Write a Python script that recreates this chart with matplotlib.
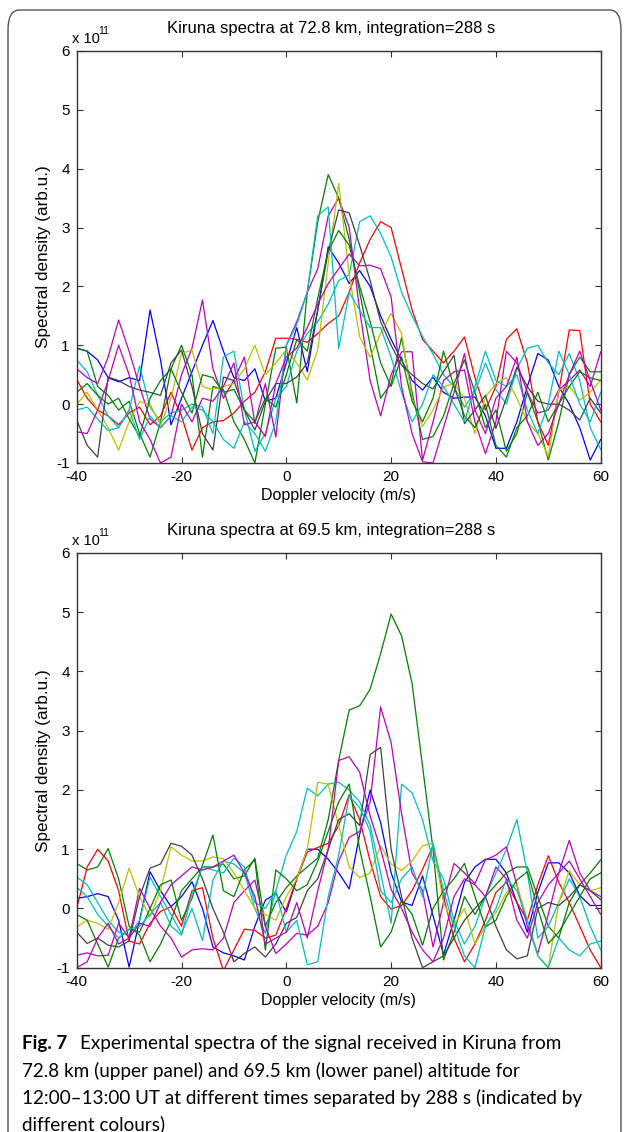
import numpy as np
import matplotlib
matplotlib.use( 'Agg' )
import matplotlib.pyplot as plt
from matplotlib.patches import FancyBboxPatch

plt.rcParams['font.family'] = [ 'Liberation Sans', 'DejaVu Sans' ]
plt.rcParams['axes.unicode_minus'] = False

# Doppler velocity grid (m/s)
velocity = np.arange( -40, 61, 2 )

# Upper panel: 72.8 km (units of 1e11)
up_blue = [ 0.95, 0.9, 0.75, 0.45, 0.38, 0.45, 0.4, 1.6, 0.75, -0.35,
            0.1, 0.55, 1.0, 1.42, 0.9, 0.45, 0.4, 0.6, 0.05, 0.1,
            0.7, 1.3, 0.55, 1.6, 2.67, 2.4, 2.05, 2.27, 2.0, 1.5,
            1.1, 0.75, 0.4, 0.24, 0.46, 0.2, 0.1, 0.12, 0.12, -0.2,
            -0.75, -0.75, -0.3, 0.3, 0.86, 0.75, 0.3, 0.0, -0.4, -0.95, -0.6 ]
up_green1 = [ 0.95, 0.9, 0.3, 0.15, -0.1, 0.05, -0.5, -0.9, -0.3, 0.6,
              1.0, 0.5, -0.9, 0.3, 0.25, -0.3, -0.6, -1.0, 0.0, 0.95,
              0.97, 0.02, 1.9, 3.1, 3.9, 3.5, 2.8, 1.9, 1.0, 0.1,
              0.35, 1.13, 0.2, -0.6, -0.55, -0.2, 0.35, 0.75, 0.2, -0.4,
              -0.1, -0.8, -0.5, 0.2, -0.3, -0.95, -0.3, 0.5, 0.8, 0.55, 0.55 ]
up_green2 = [ 0.2, 0.35, 0.15, 0.0, 0.1, -0.25, -0.55, 0.1, 0.4, 0.6,
              0.2, -0.15, 0.5, 0.45, 0.2, 0.25, -0.1, -0.3, 0.1, -0.05,
              0.5, 1.1, 0.9, 1.8, 2.6, 2.95, 2.7, 2.0, 1.4, 0.7,
              0.3, 0.8, 0.05, -0.3, 0.1, 0.9, 0.3, -0.2, -0.4, 0.0,
              -0.7, -0.9, -0.4, -0.2, 0.2, -0.3, 0.0, 0.3, 0.55, 0.45, 0.4 ]
up_red = [ 0.42, 0.1, -0.1, -0.2, -0.35, -0.15, -0.05, -0.35, -0.2, 0.2,
           -0.2, -0.78, -0.4, -0.3, -0.28, -0.15, 0.05, 0.2, 0.55, 1.12,
           1.12, 1.1, 1.05, 1.2, 1.37, 1.5, 1.9, 2.4, 2.8, 3.1,
           3.0, 2.3, 1.6, 1.1, 0.9, 0.7, 0.9, 1.14, 0.45, -0.1,
           0.3, 1.1, 1.28, 0.7, -0.3, -0.7, 0.2, 1.26, 1.25, 0.0, -0.3 ]
up_cyan1 = [ 0.75, 0.55, 0.15, -0.2, -0.4, -0.1, 0.65, -0.05, -0.3, -0.15,
             -0.1, 0.0, -0.05, -0.5, 0.8, 0.9, -0.1, -0.8, -0.5, 0.1,
             0.3, 0.9, 1.2, 1.4, 1.7, 2.1, 2.2, 3.1, 3.2, 2.9,
             2.5, 1.9, 1.5, 1.15, 0.85, 0.5, 0.3, -0.05, 0.2, 0.7,
             0.25, 0.0, 0.6, 0.95, 1.0, 0.7, 0.5, 0.86, 0.4, -0.4, -0.77 ]
up_cyan2 = [ -0.1, -0.05, -0.25, -0.45, -0.4, -0.1, -0.6, -0.2, -0.4, -0.2,
             -0.3, -0.05, -0.1, -0.3, -0.6, -0.75, -0.3, -0.5, -0.8, -0.3,
             1.0, 1.35, 1.9, 3.2, 3.35, 0.94, 1.9, 1.6, 1.3, 1.3,
             0.8, 0.2, -0.3, 0.0, 0.5, 0.3, 0.0, -0.3, 0.3, 0.9,
             0.4, 0.3, 0.5, -0.1, -0.5, 0.0, 0.9, 0.5, 0.0, -0.3, 0.2 ]
up_magenta1 = [ 0.6, 0.45, 0.35, 0.8, 1.43, 0.9, 0.3, -0.25, -0.4, -0.2,
                0.5, 0.95, 1.77, 0.6, 0.1, 0.41, 0.8, -0.33, 0.35, -0.56,
                1.0, 1.4, 1.9, 2.3, 3.2, 3.5, 3.0, 1.6, 0.4, -0.2,
                0.5, 0.89, 0.89, -0.95, -0.3, 0.4, 0.55, 0.58, -0.3, -0.84,
                -0.3, 0.9, 0.7, 0.2, -0.15, -0.1, 0.24, 0.4, 0.58, 0.3, 0.89 ]
up_magenta2 = [ -0.47, -0.5, -0.1, 0.4, 1.0, 0.5, -0.3, -0.6, -1.0, -0.9,
                0.0, -0.3, 0.1, 0.05, 0.3, 0.7, -0.35, -0.3, -0.55, 0.35,
                0.8, 0.95, 1.3, 1.7, 2.05, 2.3, 2.55, 2.35, 2.36, 2.3,
                1.82, 0.3, -0.5, -0.98, -1.0, -0.4, 0.2, 0.86, -0.1, -0.5,
                0.1, 0.3, 0.8, -0.3, -0.7, -0.5, 0.0, 0.5, 0.9, 0.4, -0.1 ]
up_yellow = [ 0.0, 0.2, -0.1, -0.4, -0.78, -0.3, 0.04, 0.0, -0.36, 0.1,
              0.86, 0.92, 0.3, 0.25, 0.3, 0.35, 0.6, 1.0, 0.5, 0.7,
              0.92, 0.7, 0.41, 0.92, 2.4, 3.75, 2.2, 1.14, 0.8, 1.2,
              1.54, 1.2, 0.1, -0.38, -0.1, 0.29, 0.35, 0.1, -0.5, 0.12,
              0.35, 0.45, 0.1, -0.3, -0.5, -0.89, 0.24, 0.3, 0.07, 0.2, 0.41 ]
up_gray = [ -0.27, -0.7, -0.9, 0.46, 0.4, 0.3, 0.24, 0.2, 0.15, 0.7,
            0.92, 0.3, -0.5, -0.78, 0.46, 0.4, -0.1, -0.44, 0.05, 0.35,
            0.35, 0.46, 0.7, 1.6, 2.6, 3.3, 3.25, 2.7, 2.1, 1.4,
            1.0, 0.66, 0.5, 0.35, 0.26, 0.55, 0.83, -0.33, -0.1, 0.15,
            -0.41, 0.1, 0.63, 0.3, 0.05, 0.0, 0.0, -0.1, -0.27, 0.1, -0.15 ]

# Lower panel: 69.5 km (units of 1e11)
lo_blue = [ 0.17, 0.2, 0.25, 0.2, -0.2, -0.99, -0.2, 0.62, 0.3, 0.03,
            0.2, 0.45, 0.0, -0.65, -0.75, -0.8, -0.87, -0.3, 0.14, 0.25,
            -0.06, 0.5, 1.0, 1.0, 0.83, 0.6, 0.33, 1.25, 2.0, 1.45,
            0.6, 0.11, 0.05, 0.55, -0.12, -0.78, -0.2, 0.44, 0.7, 0.83,
            0.83, 0.6, 0.1, -0.4, 0.27, 0.77, 0.77, 0.6, 0.22, 0.05, 0.05 ]
lo_green1 = [ 0.76, 0.65, 0.7, 1.01, 0.5, -0.3, -0.45, -0.9, -0.6, -0.2,
              0.3, 0.5, 0.7, 0.7, 0.75, 0.5, 0.55, 0.85, -0.3, 0.1,
              0.35, 0.55, 0.7, 0.85, 1.5, 2.5, 3.35, 3.42, 3.7, 4.3,
              4.97, 4.6, 3.8, 2.4, 1.0, -0.87, -0.4, 0.2, -0.1, 0.2,
              0.4, 0.6, 0.7, 0.7, 0.2, -0.3, -0.5, 0.1, 0.4, 0.6, 0.82 ]
lo_green2 = [ -0.1, -0.2, -0.6, -0.99, -0.5, -0.35, -0.4, 0.0, 0.4, 0.48,
              -0.2, 0.17, 0.73, 1.24, 0.3, 0.2, 0.65, 0.82, -0.7, 0.65,
              0.5, 0.3, 0.4, 0.8, 1.3, 1.8, 2.1, 1.0, 0.2, -0.65,
              -0.4, 0.14, -0.1, -0.62, 0.0, 0.3, 0.5, 0.76, 0.2, -0.31,
              -0.2, 0.2, 0.48, 0.62, 0.0, -0.59, -0.4, -0.1, 0.2, 0.5, 0.6 ]
lo_red = [ 0.0, 0.7, 1.0, 0.8, 0.3, -0.55, -0.6, -0.25, -0.05, 0.03,
           -0.3, 0.3, 0.35, -0.5, -1.05, -0.7, -0.35, -0.37, -0.5, -0.45,
           0.0, 0.5, 0.95, 1.03, 1.1, 1.4, 1.92, 1.5, 0.8, 0.2,
           -0.01, 0.05, 0.3, 0.66, 1.06, 0.2, -0.5, -0.9, -0.6, -0.2,
           0.27, 0.44, 0.1, -0.2, 0.4, 0.89, 0.44, 0.1, -0.3, -0.7, -1.0 ]
lo_cyan1 = [ 0.53, 0.4, 0.1, -0.2, -0.4, -0.45, -0.2, 0.53, 0.2, -0.1,
             -0.42, 0.0, -0.54, 0.48, 0.8, 0.75, 0.6, 0.0, -0.42, 0.3,
             0.9, 1.3, 2.03, 1.9, 2.1, 2.13, 2.0, 1.8, 1.4, 0.6,
             -0.25, 2.1, 1.95, 1.5, 0.8, 0.5, -0.2, -0.6, -0.3, 0.2,
             0.6, 1.0, 1.5, 0.6, -0.5, -0.3, 0.1, 0.5, 0.2, -0.3, -0.7 ]
lo_cyan2 = [ 0.36, 0.2, -0.1, -0.3, -0.5, -0.35, -0.3, -0.1, 0.1, -0.3,
             -0.45, 0.25, 0.7, 0.65, 0.6, 0.85, 0.7, 0.1, 0.0, 0.3,
             -0.4, -0.2, -0.95, -0.9, 0.2, 0.9, 1.9, 1.7, 1.3, 0.3,
             0.1, 0.5, 0.7, 0.2, 1.1, 0.3, -0.3, -0.8, -1.0, -0.3,
             0.0, 0.5, 0.3, -0.2, -0.8, -1.0, -0.5, -0.7, -0.8, -0.6, -0.55 ]
lo_magenta1 = [ -0.79, -0.75, -0.8, -0.79, -0.25, -0.5, 0.34, 0.0, -0.3, -0.5,
                -0.82, -0.7, -0.68, -0.7, -0.5, 0.1, 0.3, 0.48, -0.3, -0.76,
                -0.6, -0.42, -0.45, -0.3, 0.1, 0.8, 1.2, 1.3, 1.8, 3.4,
                2.8, 1.6, 0.6, 0.3, -0.65, 0.1, 0.76, 0.6, 0.42, 0.82,
                0.9, 1.04, 0.4, -0.3, -0.76, -0.1, 0.6, 1.15, 0.6, 0.3, 0.2 ]
lo_magenta2 = [ -1.0, -0.9, -0.5, -0.25, -0.6, -0.5, -0.25, -0.3, 0.1, 0.4,
                0.55, 0.7, 0.65, 0.7, 0.8, 0.9, 0.6, 0.2, -0.6, -0.5,
                -0.4, 0.1, -0.5, 0.3, 1.0, 2.5, 2.56, 2.3, 1.56, 1.0,
                0.32, 0.0, -0.4, -0.7, -0.9, -0.5, 0.2, 0.5, 0.4, 0.2,
                0.7, 0.5, -0.2, -0.5, 0.1, 0.4, 0.6, 0.8, 0.5, 0.2, -0.1 ]
lo_yellow = [ -0.31, -0.2, -0.25, -0.35, 0.1, 0.68, 0.2, -0.14, 0.3, 1.04,
              0.9, 0.8, 0.8, 0.87, 0.84, 0.6, 0.3, 0.0, -0.1, -0.2,
              0.2, 0.5, 1.0, 2.13, 2.1, 1.4, 0.7, 0.52, 0.6, 1.06,
              0.75, 0.64, 0.8, 1.06, 1.1, 0.1, -0.28, 0.0, -0.6, -0.3,
              -0.07, 0.27, 0.4, -0.2, -0.8, -1.0, 0.1, 0.64, 0.4, 0.3, 0.35 ]
lo_gray = [ -0.4, -0.59, -0.5, -0.62, -0.65, -0.55, 0.2, 0.68, 0.75, 1.1,
            1.05, 0.9, 0.5, 0.0, -0.4, -0.9, -0.76, -0.65, -0.82, -0.6,
            -0.25, -0.15, 0.3, 0.5, 1.0, 1.5, 1.6, 1.4, 2.6, 2.72,
            1.0, 0.2, -0.5, -1.0, -0.9, -0.8, -0.5, -0.2, 0.0, 0.2,
            -0.3, -0.7, -0.85, -0.8, 0.0, 0.1, 0.05, 0.2, 0.4, 0.3, 0.15 ]

# old matlab line colours
c_b = ( 0, 0, 1 )
c_g = ( 0, 0.5, 0 )
c_r = ( 1, 0, 0 )
c_c = ( 0, 0.75, 0.75 )
c_m = ( 0.75, 0, 0.75 )
c_y = ( 0.75, 0.75, 0 )
c_k = ( 0.25, 0.25, 0.25 )

upper = [ ( up_blue, c_b ), ( up_green1, c_g ), ( up_red, c_r ), ( up_cyan1, c_c ),
          ( up_magenta1, c_m ), ( up_yellow, c_y ), ( up_gray, c_k ), ( up_green2, c_g ),
          ( up_cyan2, c_c ), ( up_magenta2, c_m ) ]
lower = [ ( lo_blue, c_b ), ( lo_green1, c_g ), ( lo_red, c_r ), ( lo_cyan1, c_c ),
          ( lo_magenta1, c_m ), ( lo_yellow, c_y ), ( lo_gray, c_k ), ( lo_green2, c_g ),
          ( lo_cyan2, c_c ), ( lo_magenta2, c_m ) ]

fig = plt.figure( figsize = ( 6.27, 11.32 ), dpi = 100 )
W, H = 627., 1132.

# outer rounded frame (bottom edge runs off the page)
frame = FancyBboxPatch( ( 8 / W, 1 - 1160 / H ), 613 / W, 1150 / H,
                        boxstyle = 'round,pad=0,rounding_size=0.018',
                        transform = fig.transFigure, fill = False,
                        edgecolor = '#555555', linewidth = 1.0 )
fig.patches.append( frame )

def panel( rect, series, title, top_px ):
	ax = fig.add_axes( rect )
	for vals, col in series:
		ax.plot( velocity, vals, color = col, linewidth = 0.9 )
	ax.set_xlim( -40, 60 )
	ax.set_ylim( -1, 6 )
	ax.set_xticks( [ -40, -20, 0, 20, 40, 60 ] )
	ax.set_yticks( range( -1, 7 ) )
	ax.tick_params( direction = 'in', top = True, right = True, length = 4,
	                labelsize = 11, pad = 5, color = '#333333' )
	for s in ax.spines.values():
		s.set_color( '#333333' )
		s.set_linewidth( 1.0 )
	ax.set_xlabel( 'Doppler velocity (m/s)', fontsize = 11.5, labelpad = 3 )
	ax.set_ylabel( 'Spectral density (arb.u.)', fontsize = 12.3, labelpad = 4 )
	ax.set_title( title, fontsize = 12, pad = 13, x = 0.485 )
	# exponent label, matlab style
	fig.text( 72 / W, 1 - ( top_px - 12 ) / H, 'x 10', fontsize = 10.5, va = 'center' )
	fig.text( 98 / W, 1 - ( top_px - 20 ) / H, '11', fontsize = 7.5, va = 'center' )
	return ax

panel( [ 76.7 / W, 1 - 463 / H, 524 / W, 412 / H ], upper,
       'Kiruna spectra at 72.8 km, integration=288 s', 51 )
panel( [ 76.7 / W, 1 - 967.7 / H, 524 / W, 414.7 / H ], lower,
       'Kiruna spectra at 69.5 km, integration=288 s', 553 )

# caption
cap_font = [ 'Lato', 'DejaVu Sans' ]
cap_size = 13.6
fig.text( 22 / W, 1 - 1043 / H, 'Fig. 7', fontsize = cap_size, fontweight = 'bold',
          family = cap_font, va = 'center' )
fig.text( 80 / W, 1 - 1043 / H, 'Experimental spectra of the signal received in Kiruna from',
          fontsize = cap_size, family = cap_font, va = 'center' )
cap_lines = [ '72.8 km (upper panel) and 69.5 km (lower panel) altitude for',
              '12:00\u201313:00 UT at different times separated by 288 s (indicated by',
              'different colours)' ]
for i, line in enumerate( cap_lines ):
	fig.text( 22 / W, 1 - ( 1071 + 26.5 * i ) / H, line, fontsize = cap_size,
	          family = cap_font, va = 'center' )

fig.savefig( 'out.png', dpi = 100 )
